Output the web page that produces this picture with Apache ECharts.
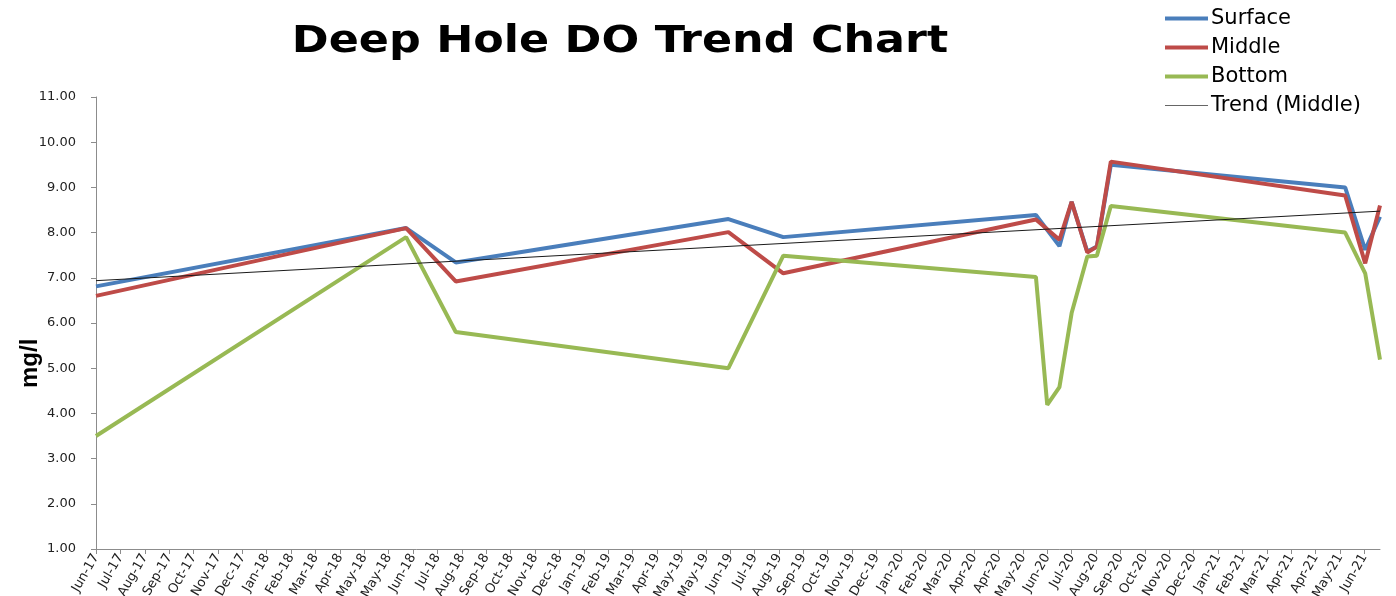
<!DOCTYPE html>
<html>
<head>
<meta charset="utf-8">
<script src="https://cdn.jsdelivr.net/npm/echarts@6/dist/echarts.min.js"></script>
<style>
  html, body { margin: 0; padding: 0; background: #fff; }
  #chart { width: 1396px; height: 596px; }
</style>
</head>
<body>
<div id="chart"></div>
<script>
// sample dates (Excel date axis, 28 day major unit from the first date)
var dates = ['2017-06-29', '2018-06-20', '2018-08-16', '2019-06-25', '2019-08-27',
    '2020-06-12', '2020-06-25', '2020-07-09', '2020-07-23', '2020-08-10',
    '2020-08-21', '2020-09-06', '2021-06-02', '2021-06-25', '2021-07-12'];
var surface = [6.81, 8.10, 7.34, 8.30, 7.90, 8.39, null, 7.70, 8.68, 7.58, 7.69, 9.50, 9.00, 7.62, 8.35];
var middle = [6.60, 8.10, 6.92, 8.01, 7.10, 8.29, null, 7.84, 8.68, 7.56, 7.69, 9.57, 8.82, 7.32, 8.60];
var bottom = [3.50, 7.90, 5.80, 5.00, 7.49, 7.02, 4.19, 4.58, 6.22, 7.47, 7.49, 8.59, 8.00, 7.10, 5.19];
var yTicks = [1, 11, 1];   // min, max, step (mg/l)
var dayStep = 28;

var DAY = 86400000;
var t0 = Date.parse(dates[0]);
var xs = dates.map(function (d) { return (Date.parse(d) - t0) / DAY; });
var xMax = xs[xs.length - 1];
var months = ['Jan', 'Feb', 'Mar', 'Apr', 'May', 'Jun', 'Jul', 'Aug', 'Sep', 'Oct', 'Nov', 'Dec'];

function pairs(vals) {
    return xs.map(function (x, i) { return [x, vals[i]]; });
}

// linear trendline on Middle, like Excel does
function trend(vals) {
    var n = 0, sx = 0, sy = 0, sxx = 0, sxy = 0;
    xs.forEach(function (x, i) {
        if (vals[i] == null) return;
        n++; sx += x; sy += vals[i]; sxx += x * x; sxy += x * vals[i];
    });
    var b = (n * sxy - sx * sy) / (n * sxx - sx * sx);
    var a = (sy - b * sx) / n;
    return [[0, a], [xMax, a + b * xMax]];
}

var tickVals = [];
for (var k = 0; k <= xMax; k += dayStep) tickVals.push(k);

var font = 'DejaVu Sans';
// legend icons: a flat bar in a 43x14 box (the hairlines keep the box size)
var thickIcon = 'path://M0,0h43v0.001h-43z M0,5h43v4h-43z M0,13.999h43v0.001h-43z';
var thinIcon = 'path://M0,0h43v0.001h-43z M0,6.5h43v1h-43z M0,13.999h43v0.001h-43z';

option = {
    backgroundColor: '#ffffff',
    animation: false,
    legend: {
        orient: 'vertical',
        left: 1160,
        top: 3,
        itemWidth: 43,
        itemHeight: 14,
        itemGap: 8,
        textStyle: {
            fontFamily: font,
            fontSize: 21,
            color: '#000',
            padding: [0, 0, 0, -2]
        },
        data: [
            { name: 'Surface', icon: thickIcon },
            { name: 'Middle', icon: thickIcon },
            { name: 'Bottom', icon: thickIcon },
            { name: 'Trend (Middle)', icon: thinIcon, itemStyle: { color: '#666' } }
        ]
    },
    grid: {
        left: 96,
        right: 16,
        top: 97,
        bottom: 47,
        outerBoundsMode: 'none'
    },
    xAxis: {
        type: 'value',
        min: 0,
        max: xMax,
        interval: dayStep,
        splitLine: { show: false },
        axisLine: { lineStyle: { color: '#8c8c8c', width: 1 } },
        axisTick: {
            length: 5,
            lineStyle: { color: '#8c8c8c' },
            customValues: tickVals
        },
        axisLabel: {
            rotate: 60,
            margin: 6,
            fontFamily: font,
            fontSize: 13,
            color: '#222',
            customValues: tickVals,
            formatter: function (v) {
                if (v % dayStep !== 0) return '';
                var d = new Date(t0 + v * DAY);
                return months[d.getUTCMonth()] + '-' + String(d.getUTCFullYear()).slice(2);
            }
        }
    },
    yAxis: {
        type: 'value',
        min: yTicks[0],
        max: yTicks[1],
        interval: yTicks[2],
        splitLine: { show: false },
        axisLine: { show: true, lineStyle: { color: '#8c8c8c', width: 1 } },
        axisTick: { show: true, length: 5, lineStyle: { color: '#8c8c8c' } },
        axisLabel: {
            margin: 20,
            fontFamily: font,
            fontSize: 13,
            color: '#222',
            formatter: function (v) { return v.toFixed(2); }
        }
    },
    graphic: [{
        // title, stretched wide like the original
        type: 'text',
        x: 620,
        y: 42,
        scaleX: 1.2,
        style: {
            text: 'Deep Hole DO Trend Chart',
            font: 'bold 37px "DejaVu Sans"',
            fill: '#000',
            align: 'center',
            verticalAlign: 'middle'
        }
    }, {
        type: 'text',
        x: 18,
        y: 388,
        rotation: Math.PI / 2,
        style: {
            text: 'mg/l',
            font: 'bold 24px "Liberation Sans"',
            fill: '#000'
        }
    }],
    series: [{
        name: 'Surface',
        type: 'line',
        symbol: 'none',
        connectNulls: true,
        lineStyle: { width: 4, color: '#4a7ebb' },
        itemStyle: { color: '#4a7ebb' },
        data: pairs(surface)
    }, {
        name: 'Middle',
        type: 'line',
        symbol: 'none',
        connectNulls: true,
        lineStyle: { width: 4, color: '#be4b48' },
        itemStyle: { color: '#be4b48' },
        data: pairs(middle)
    }, {
        name: 'Bottom',
        type: 'line',
        symbol: 'none',
        connectNulls: true,
        lineStyle: { width: 4, color: '#98b954' },
        itemStyle: { color: '#98b954' },
        data: pairs(bottom)
    }, {
        name: 'Trend (Middle)',
        type: 'line',
        symbol: 'none',
        lineStyle: { width: 1, color: '#1a1a1a' },
        itemStyle: { color: '#1a1a1a' },
        data: trend(middle)
    }]
};

var chart = echarts.init(document.getElementById('chart'));
chart.setOption(option);
</script>
</body>
</html>
